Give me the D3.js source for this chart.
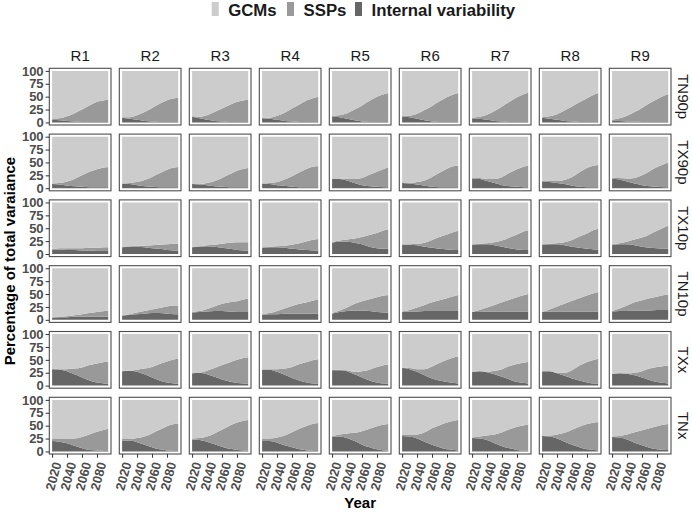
<!DOCTYPE html>
<html>
<head>
<meta charset="utf-8">
<script src="https://cdn.jsdelivr.net/npm/d3@7"></script>
<style>
  body { margin: 0; background: #fff; }
  svg { font-family: "Liberation Sans", Arial, sans-serif; }
</style>
</head>
<body>
<div id="chart"></div>
<script>
const regions = ["R1", "R2", "R3", "R4", "R5", "R6", "R7", "R8", "R9"];
const indices = ["TN90p", "TX90p", "TX10p", "TN10p", "TXx", "TNx"];
const years = [2020, 2030, 2040, 2050, 2060, 2070, 2080, 2090, 2095];
const sources = ["GCMs", "SSPs", "Internal variability"];
const yTicks = [0, 25, 50, 75, 100];
const xTicks = [2020, 2040, 2060, 2080];

// internal variability share (%), one row per region R1..R9
const ivTN90p = [
  [5,4,3,2,1,1,1,1,1], [9,7,5,3,2,1,1,1,1], [11,8,5,3,2,1,1,1,1],
  [8,7,5,3,2,1,1,1,1], [12,10,7,4,2,1,1,1,1], [12,10,7,4,2,1,1,1,1],
  [8,7,5,3,2,1,1,1,1], [9,7,5,3,2,1,1,1,1], [3,3,2,2,1,1,1,1,1]
];
const ivTX90p = [
  [8,7,5,4,3,2,2,2,2], [9,8,6,4,3,2,2,2,2], [8,7,6,4,3,2,2,2,2],
  [9,8,6,5,3,2,2,2,2], [18,18,15,10,6,4,3,2,2], [10,9,7,5,3,2,2,2,2],
  [19,18,14,10,6,4,3,2,2], [13,12,10,8,5,3,2,2,2], [19,17,13,9,6,4,3,2,2]
];
const ivTX10p = [
  [9,9,8,8,7,7,6,6,6], [13,14,14,13,11,10,8,7,7], [13,14,15,14,12,10,8,7,6],
  [12,13,13,12,10,9,8,7,7], [22,24,24,22,19,14,11,10,10], [18,18,17,14,12,10,9,8,8],
  [18,19,19,17,14,11,9,8,8], [18,19,19,17,14,12,10,9,9], [18,19,19,17,14,12,11,10,10]
];
const ivTN10p = [
  [4,5,5,6,6,6,6,6,6], [8,10,11,12,13,13,12,11,11], [14,15,16,17,17,16,15,15,15],
  [10,11,11,12,12,12,12,12,12], [12,15,17,18,18,17,15,14,14], [15,16,16,17,17,17,17,17,17],
  [15,15,16,16,16,16,16,16,16], [15,16,16,16,16,16,16,16,16], [16,17,17,18,18,18,19,19,19]
];
const ivTXx = [
  [32,31,28,22,16,10,6,4,3], [28,29,27,22,16,10,6,4,3], [24,25,22,17,12,8,5,4,3],
  [31,31,27,21,15,10,6,4,4], [30,30,28,22,16,10,6,4,4], [34,32,27,20,14,10,7,5,4],
  [27,28,26,22,17,12,7,5,4], [28,28,24,19,14,10,6,4,4], [23,24,23,20,16,11,7,5,4]
];
const ivTNx = [
  [20,19,16,11,6,3,2,1,1], [20,21,18,13,8,4,2,1,1], [23,22,19,14,9,5,3,2,2],
  [20,20,17,12,8,4,2,1,1], [29,29,26,20,13,8,4,2,2], [30,29,25,19,13,8,4,3,2],
  [26,25,22,16,10,6,3,2,2], [30,29,25,19,13,8,4,3,2], [28,27,23,17,12,7,4,3,3]
];

// SSP share (%), one row per region R1..R9
const sspTN90p = [
  [2,4,9,16,24,32,39,42,44], [1,3,9,17,26,35,42,46,47], [1,3,9,17,25,33,39,42,44],
  [1,2,8,16,25,34,42,47,49], [1,4,11,21,31,41,49,54,56], [0,3,10,20,30,40,48,54,56],
  [1,4,10,19,29,39,48,54,57], [1,5,11,20,29,38,46,53,56], [2,5,11,18,27,36,44,51,54]
];
const sspTX90p = [
  [1,3,8,14,22,30,35,38,39], [0,2,6,12,19,27,34,38,39], [0,1,4,10,17,25,32,36,37],
  [0,2,6,12,20,29,36,40,41], [1,1,3,8,14,22,29,36,38], [0,1,5,10,19,28,36,41,42],
  [1,2,4,8,16,26,34,40,42], [1,2,4,8,17,28,37,42,43], [1,3,6,11,19,29,38,45,48]
];
const sspTX10p = [
  [1,2,3,3,4,5,6,7,7], [1,1,2,3,6,8,11,13,13], [1,1,2,4,8,12,15,16,17],
  [1,1,2,4,8,12,17,21,22], [1,2,4,8,14,23,30,36,38], [1,1,3,8,15,23,29,35,37],
  [1,1,2,6,12,21,29,36,38], [1,1,2,6,13,22,30,38,40], [1,2,5,11,18,26,34,42,45]
];
const sspTN10p = [
  [1,1,2,3,5,7,9,11,12], [1,1,3,5,7,10,14,17,17], [1,2,5,9,14,18,21,25,26],
  [1,2,6,10,15,19,22,26,28], [1,3,7,13,18,23,29,33,34], [1,3,8,12,17,21,25,29,31],
  [0,4,8,13,18,23,28,32,34], [0,4,10,15,21,26,31,36,38], [1,5,11,16,20,24,26,29,30]
];
const sspTXx = [
  [1,1,4,11,19,30,37,42,44], [1,0,4,11,20,32,41,47,49], [0,0,7,17,28,37,45,50,52],
  [1,1,5,12,21,32,40,46,47], [1,1,2,5,12,21,30,36,37], [1,2,5,12,23,34,43,50,53],
  [0,0,1,7,15,26,35,40,42], [0,0,1,6,16,29,40,46,48], [0,0,1,5,12,22,29,33,35]
];
const sspTNx = [
  [4,5,8,14,22,30,36,41,43], [4,3,8,16,27,38,47,52,53], [2,4,10,21,33,45,53,58,59],
  [5,5,10,19,29,40,48,53,54], [1,4,9,16,26,36,45,50,51], [3,4,8,18,32,43,52,57,59],
  [1,4,9,17,27,37,45,49,50], [1,2,8,17,29,40,49,53,55], [1,3,10,20,29,38,45,49,50]
];

const ivData = [ivTN90p, ivTX90p, ivTX10p, ivTN10p, ivTXx, ivTNx];
const sspData = [sspTN90p, sspTX90p, sspTX10p, sspTN10p, sspTXx, sspTNx];

const w = 692, h = 512;
const col0 = 49.3, colStep = 70, pw = 61.7;
const row0 = 68.3, rowStep = 65.8, ph = 56.7;

const color = d3.scaleOrdinal(sources, ["#cccccc", "#999999", "#666666"]);

const svg = d3.select("#chart")
  .append("svg")
  .attr("width", w)
  .attr("height", h);

const x = d3.scaleLinear([2016.25, 2098.75], [0, pw]);
const y = d3.scaleLinear([-5, 105], [ph, 0]);

const stack = d3.stack().keys(["Internal variability", "SSPs", "GCMs"]);
const area = d3.area()
  .x(d => x(d.data.year))
  .y0(d => y(d[0]))
  .y1(d => y(d[1]))
  .curve(d3.curveMonotoneX);

indices.forEach((idx, j) => {
  regions.forEach((reg, i) => {
    const g = svg.append("g")
      .attr("transform", `translate(${col0 + i * colStep},${row0 + j * rowStep})`);

    const table = years.map((yr, k) => {
      const iv = ivData[j][i][k], ssp = sspData[j][i][k];
      return {year: yr, "Internal variability": iv, "SSPs": ssp, "GCMs": 100 - iv - ssp};
    });

    g.append("rect")
      .attr("width", pw).attr("height", ph)
      .attr("fill", "#fff");

    g.selectAll("path.layer")
      .data(stack(table))
      .join("path")
      .attr("class", "layer")
      .attr("fill", d => color(d.key))
      .attr("d", area);

    g.append("rect")
      .attr("width", pw).attr("height", ph)
      .attr("fill", "none")
      .attr("stroke", "#4d4d4d")
      .attr("stroke-width", 1.1);

    // left axis on first column
    if (i === 0) {
      const ax = g.append("g")
        .call(d3.axisLeft(y).tickValues(yTicks).tickSize(3.7).tickPadding(2));
      ax.select(".domain").remove();
      ax.selectAll("line").attr("stroke", "#333");
      ax.selectAll("text")
        .attr("fill", "#4d4d4d")
        .style("font-size", "13px")
        .style("font-weight", "bold");
    }

    // bottom axis on last row
    if (j === indices.length - 1) {
      const ax = g.append("g")
        .attr("transform", `translate(0,${ph})`)
        .call(d3.axisBottom(x).tickValues(xTicks).tickSize(3.7).tickFormat(d3.format("d")));
      ax.select(".domain").remove();
      ax.selectAll("line").attr("stroke", "#333");
      ax.selectAll("text")
        .attr("fill", "#4d4d4d")
        .style("font-size", "13px")
        .style("font-weight", "bold")
        .attr("text-anchor", "end")
        .attr("y", 0)
        .attr("dy", "0.71em")
        .attr("transform", "translate(0,7) rotate(-75)");
    }

    // column strip
    if (j === 0) {
      g.append("text")
        .attr("x", pw / 2).attr("y", -7)
        .attr("text-anchor", "middle")
        .attr("fill", "#1a1a1a")
        .style("font-size", "15px")
        .text(reg);
    }

    // row strip
    if (i === regions.length - 1) {
      g.append("text")
        .attr("transform", `translate(${pw + 7},${ph / 2}) rotate(90)`)
        .attr("text-anchor", "middle")
        .attr("fill", "#1a1a1a")
        .style("font-size", "15px")
        .text(idx);
    }
  });
});

// axis titles
svg.append("text")
  .attr("x", col0 + (regions.length - 1) * colStep / 2 + pw / 2)
  .attr("y", 508)
  .attr("text-anchor", "middle")
  .style("font-size", "15px")
  .style("font-weight", "bold")
  .text("Year");

svg.append("text")
  .attr("transform", `translate(15,${row0 + ((indices.length - 1) * rowStep + ph) / 2}) rotate(-90)`)
  .attr("text-anchor", "middle")
  .style("font-size", "15px")
  .style("font-weight", "bold")
  .text("Percentage of total varaiance");

// legend
const legendX = [211.7, 287, 355];
const legend = svg.append("g");
sources.forEach((s, k) => {
  legend.append("rect")
    .attr("x", legendX[k]).attr("y", 2)
    .attr("width", 7).attr("height", 14)
    .attr("fill", color(s));
  legend.append("text")
    .attr("x", legendX[k] + 16.5).attr("y", 16)
    .style("font-size", "16.8px")
    .style("font-weight", "bold")
    .attr("fill", "#1a1a1a")
    .text(s);
});
</script>
</body>
</html>
